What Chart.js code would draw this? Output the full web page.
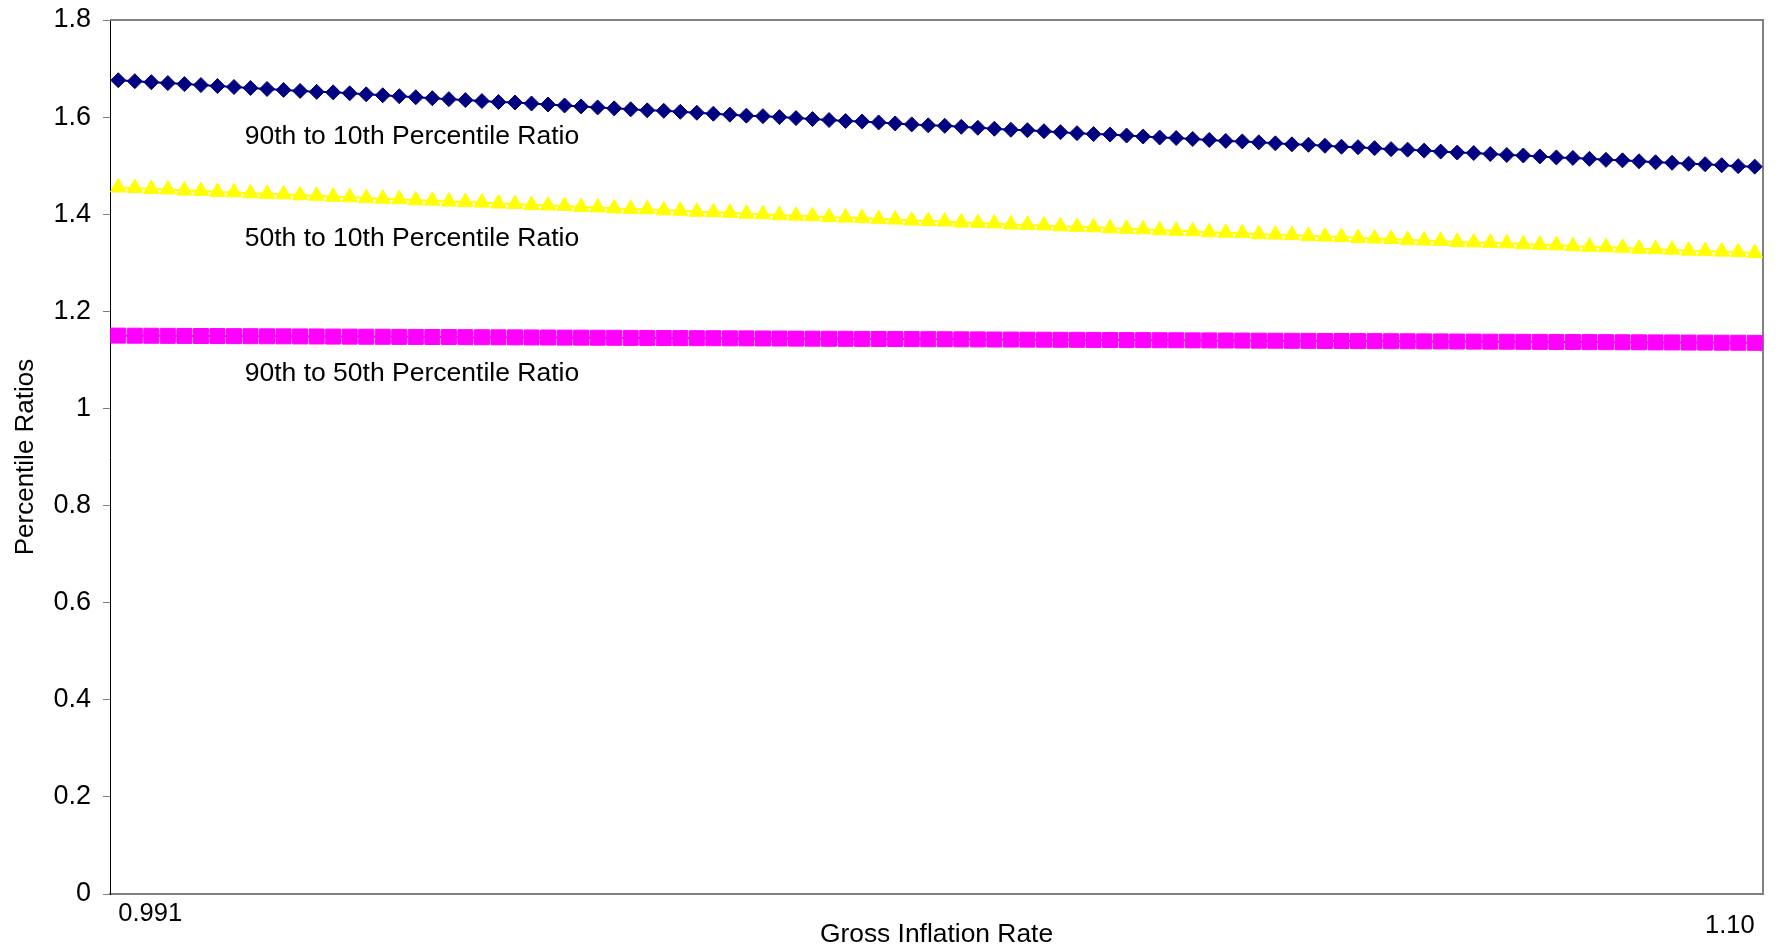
<!DOCTYPE html>
<html>
<head>
<meta charset="utf-8">
<title>Percentile Ratios by Gross Inflation Rate</title>
<script src="https://cdn.jsdelivr.net/npm/chart.js@4/dist/chart.umd.min.js"></script>
<style>
  html, body { margin: 0; padding: 0; background: #ffffff; }
  #wrap { width: 1782px; height: 952px; position: relative; }
</style>
</head>
<body>
<div id="wrap"><canvas id="chart"></canvas></div>
<script>
// Gross inflation rate (category axis)
const inflationRates = [
  0.9910, 0.9921, 0.9932, 0.9943, 0.9954, 0.9965, 0.9976, 0.9987, 0.9998, 1.0009,
  1.0020, 1.0031, 1.0042, 1.0053, 1.0064, 1.0075, 1.0086, 1.0097, 1.0108, 1.0119,
  1.0130, 1.0141, 1.0152, 1.0163, 1.0174, 1.0185, 1.0196, 1.0207, 1.0218, 1.0229,
  1.0240, 1.0251, 1.0262, 1.0273, 1.0284, 1.0295, 1.0306, 1.0317, 1.0328, 1.0339,
  1.0350, 1.0361, 1.0372, 1.0383, 1.0394, 1.0405, 1.0416, 1.0427, 1.0438, 1.0449,
  1.0460, 1.0471, 1.0482, 1.0493, 1.0504, 1.0515, 1.0526, 1.0537, 1.0548, 1.0559,
  1.0570, 1.0581, 1.0592, 1.0603, 1.0614, 1.0625, 1.0636, 1.0647, 1.0658, 1.0669,
  1.0680, 1.0691, 1.0702, 1.0713, 1.0724, 1.0735, 1.0746, 1.0757, 1.0768, 1.0779,
  1.0790, 1.0801, 1.0812, 1.0823, 1.0834, 1.0845, 1.0856, 1.0867, 1.0878, 1.0889,
  1.0900, 1.0911, 1.0922, 1.0933, 1.0944, 1.0955, 1.0966, 1.0977, 1.0988, 1.0999
];

// 90th to 10th percentile ratio
const ratio90to10 = [
  1.676, 1.674, 1.672, 1.670, 1.668, 1.666, 1.664, 1.662, 1.660, 1.658,
  1.656, 1.654, 1.652, 1.651, 1.649, 1.647, 1.645, 1.643, 1.641, 1.639,
  1.637, 1.635, 1.633, 1.631, 1.630, 1.628, 1.626, 1.624, 1.622, 1.620,
  1.618, 1.616, 1.614, 1.613, 1.611, 1.609, 1.607, 1.605, 1.603, 1.602,
  1.600, 1.598, 1.596, 1.594, 1.592, 1.591, 1.589, 1.587, 1.585, 1.583,
  1.582, 1.580, 1.578, 1.576, 1.574, 1.573, 1.571, 1.569, 1.567, 1.565,
  1.564, 1.562, 1.560, 1.558, 1.557, 1.555, 1.553, 1.551, 1.550, 1.548,
  1.546, 1.544, 1.543, 1.541, 1.539, 1.538, 1.536, 1.534, 1.533, 1.531,
  1.529, 1.527, 1.526, 1.524, 1.522, 1.521, 1.519, 1.517, 1.516, 1.514,
  1.512, 1.511, 1.509, 1.507, 1.506, 1.504, 1.503, 1.501, 1.499, 1.498
];

// 50th to 10th percentile ratio
const ratio50to10 = [
  1.455, 1.454, 1.452, 1.451, 1.449, 1.448, 1.446, 1.445, 1.443, 1.442,
  1.441, 1.439, 1.438, 1.436, 1.435, 1.433, 1.432, 1.431, 1.429, 1.428,
  1.426, 1.425, 1.424, 1.422, 1.421, 1.419, 1.418, 1.417, 1.415, 1.414,
  1.412, 1.411, 1.410, 1.408, 1.407, 1.405, 1.404, 1.403, 1.401, 1.400,
  1.398, 1.397, 1.396, 1.394, 1.393, 1.392, 1.390, 1.389, 1.387, 1.386,
  1.385, 1.383, 1.382, 1.381, 1.379, 1.378, 1.377, 1.375, 1.374, 1.373,
  1.371, 1.370, 1.369, 1.367, 1.366, 1.365, 1.363, 1.362, 1.361, 1.359,
  1.358, 1.357, 1.355, 1.354, 1.353, 1.351, 1.350, 1.349, 1.347, 1.346,
  1.345, 1.343, 1.342, 1.341, 1.340, 1.338, 1.337, 1.336, 1.334, 1.333,
  1.332, 1.331, 1.329, 1.328, 1.327, 1.325, 1.324, 1.323, 1.322, 1.320
];

// 90th to 50th percentile ratio
const ratio90to50 = [
  1.1500, 1.1498, 1.1497, 1.1495, 1.1494, 1.1492, 1.1491, 1.1489, 1.1488, 1.1486,
  1.1485, 1.1483, 1.1482, 1.1480, 1.1479, 1.1477, 1.1476, 1.1474, 1.1473, 1.1471,
  1.1470, 1.1468, 1.1467, 1.1465, 1.1464, 1.1462, 1.1461, 1.1459, 1.1458, 1.1456,
  1.1455, 1.1453, 1.1452, 1.1450, 1.1449, 1.1447, 1.1446, 1.1444, 1.1443, 1.1441,
  1.1440, 1.1438, 1.1437, 1.1435, 1.1434, 1.1432, 1.1431, 1.1429, 1.1428, 1.1426,
  1.1425, 1.1423, 1.1422, 1.1420, 1.1419, 1.1417, 1.1416, 1.1414, 1.1413, 1.1411,
  1.1410, 1.1408, 1.1407, 1.1405, 1.1404, 1.1402, 1.1401, 1.1399, 1.1398, 1.1396,
  1.1395, 1.1393, 1.1392, 1.1390, 1.1389, 1.1387, 1.1386, 1.1384, 1.1383, 1.1381,
  1.1380, 1.1378, 1.1377, 1.1375, 1.1374, 1.1372, 1.1371, 1.1369, 1.1368, 1.1366,
  1.1365, 1.1363, 1.1362, 1.1360, 1.1359, 1.1357, 1.1356, 1.1354, 1.1353, 1.1351
];

// Category labels shown on the x axis (others left blank)
const xTickIndex = [0, 99];
const xTickText = ['0.991', '1.10'];

// Series names written inside the plot, with their anchor (category position, value)
const noteText = ['90th to 10th Percentile Ratio', '50th to 10th Percentile Ratio', '90th to 50th Percentile Ratio'];
const noteX = [7.65, 7.65, 7.65];
const noteY = [1.559, 1.350, 1.071];

const FONT = '"Liberation Sans", Arial, Helvetica, sans-serif';

// Grey frame on the top and right of the plot area
const plotFrame = {
  id: 'plotFrame',
  beforeDatasetsDraw(chart) {
    const { ctx, chartArea: a } = chart;
    ctx.save();
    ctx.strokeStyle = '#808080';
    ctx.lineWidth = 2;
    ctx.beginPath();
    ctx.moveTo(a.left, a.top);
    ctx.lineTo(a.right, a.top);
    ctx.lineTo(a.right, a.bottom);
    ctx.stroke();
    ctx.restore();
  }
};

// Series names placed beside their lines
const seriesNotes = {
  id: 'seriesNotes',
  afterDatasetsDraw(chart) {
    const { ctx, scales: { x, y } } = chart;
    ctx.save();
    ctx.font = '26.5px ' + FONT;
    ctx.fillStyle = '#000000';
    ctx.textAlign = 'left';
    ctx.textBaseline = 'middle';
    noteText.forEach((t, i) => {
      ctx.fillText(t, x.getPixelForValue(noteX[i]), y.getPixelForValue(noteY[i]));
    });
    ctx.restore();
  }
};

Chart.defaults.font.family = FONT;
Chart.defaults.color = '#000000';

new Chart(document.getElementById('chart'), {
  type: 'line',
  data: {
    labels: inflationRates,
    datasets: [
      {
        label: noteText[0],
        data: ratio90to10,
        borderColor: '#000080',
        backgroundColor: '#000080',
        borderWidth: 2,
        pointStyle: 'rectRot',
        pointRadius: 7.5,
        pointBorderWidth: 1,
        pointBorderColor: '#000080',
        pointBackgroundColor: '#000080',
        tension: 0,
        clip: false
      },
      {
        label: noteText[1],
        data: ratio50to10,
        borderColor: '#FFFF00',
        backgroundColor: '#FFFF00',
        borderWidth: 2,
        pointStyle: 'triangle',
        pointRadius: 9,
        pointBorderWidth: 1,
        pointBorderColor: '#FFFF00',
        pointBackgroundColor: '#FFFF00',
        tension: 0,
        clip: false
      },
      {
        label: noteText[2],
        data: ratio90to50,
        borderColor: '#FF00FF',
        backgroundColor: '#FF00FF',
        borderWidth: 2,
        pointStyle: 'rect',
        pointRadius: 10.6,
        pointBorderWidth: 1,
        pointBorderColor: '#FF00FF',
        pointBackgroundColor: '#FF00FF',
        tension: 0,
        clip: false
      }
    ]
  },
  options: {
    responsive: true,
    maintainAspectRatio: false,
    devicePixelRatio: 1,
    animation: false,
    events: [],
    layout: { padding: { top: 20, right: 19, left: 0, bottom: 0 } },
    plugins: {
      legend: { display: false },
      tooltip: { enabled: false },
      title: { display: false }
    },
    scales: {
      x: {
        type: 'category',
        offset: true,
        grid: { display: false, drawTicks: false },
        border: { display: true, color: '#808080', width: 2 },
        ticks: {
          autoSkip: false,
          maxRotation: 0,
          minRotation: 0,
          align: 'inner',
          padding: 5,
          color: '#000000',
          font: (ctx) => (ctx.index === xTickIndex[1]
            ? { size: 25.5, family: FONT, lineHeight: '18px' }
            : { size: 25.5, family: FONT }),
          callback: function (value, index) {
            const k = xTickIndex.indexOf(index);
            if (k < 0) return '';
            // the last label sits a little lower than the first
            return k === 1 ? ['', xTickText[k]] : xTickText[k];
          }
        },
        title: {
          display: true,
          text: 'Gross Inflation Rate',
          color: '#000000',
          font: { size: 26.4, family: FONT },
          padding: { top: 0, bottom: 1 }
        },
        afterFit: (scale) => {
          scale.height = 58;
          scale.paddingLeft = 0;
          scale.paddingRight = 0;
        }
      },
      y: {
        min: 0,
        max: 1.8,
        grid: {
          display: true,
          drawOnChartArea: false,
          drawTicks: true,
          tickLength: 7,
          color: '#808080',
          tickColor: '#808080',
          tickWidth: 1
        },
        border: { display: true, color: '#000000', width: 1 },
        ticks: {
          stepSize: 0.2,
          padding: 12,
          color: '#000000',
          font: { size: 27, family: FONT },
          callback: (v) => String(+Number(v).toFixed(1))
        },
        title: {
          display: true,
          text: 'Percentile Ratios',
          color: '#000000',
          font: { size: 26, family: FONT },
          padding: { top: 10, bottom: 0 }
        },
        afterFit: (scale) => {
          scale.width = 110;
          scale.paddingTop = 0;
          scale.paddingBottom = 0;
        }
      }
    }
  },
  plugins: [plotFrame, seriesNotes]
});
</script>
</body>
</html>
